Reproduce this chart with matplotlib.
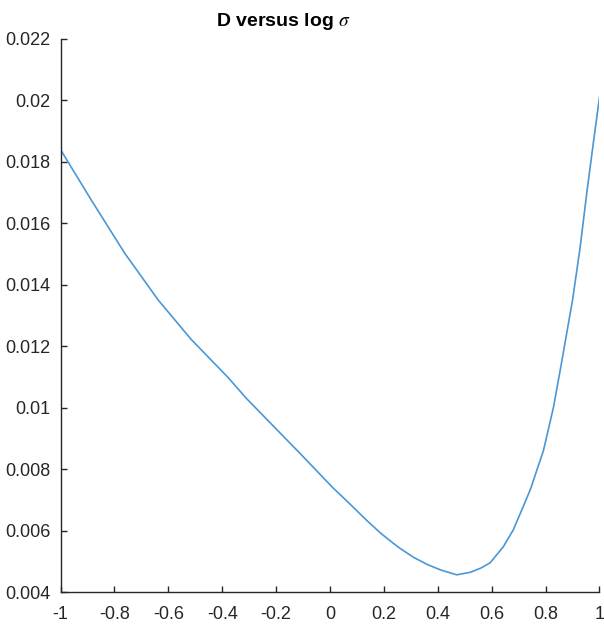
import matplotlib

matplotlib.use('agg')
import matplotlib.pyplot as plt

# values
log_sigma = [-1.0, -0.886, -0.762, -0.638, -0.515, -0.378, -0.31, -0.11, 0.01, 0.07,
             0.14, 0.19, 0.23, 0.26, 0.31, 0.36, 0.41, 0.47, 0.52, 0.56, 0.594, 0.643,
             0.68, 0.717, 0.745, 0.767, 0.792, 0.829, 0.86, 0.90, 0.928, 0.953, 0.977,
             1.0]
D = [0.0184, 0.01676, 0.01503, 0.01351, 0.01222, 0.01098, 0.0103, 0.0085, 0.0074,
     0.0069, 0.0063, 0.0059, 0.00562, 0.00542, 0.00513, 0.0049, 0.00472, 0.00456,
     0.00464, 0.00478, 0.00495, 0.00547, 0.00602, 0.00678, 0.00737, 0.00795, 0.0086,
     0.0100, 0.0115, 0.0135, 0.0152, 0.0170, 0.0186, 0.0201]

x_ticks = [-1, -0.8, -0.6, -0.4, -0.2, 0, 0.2, 0.4, 0.6, 0.8, 1]
x_labels = ['-1', '-0.8', '-0.6', '-0.4', '-0.2', '0', '0.2', '0.4', '0.6', '0.8', '1']
y_ticks = [0.004, 0.006, 0.008, 0.01, 0.012, 0.014, 0.016, 0.018, 0.02, 0.022]
y_labels = ['0.004', '0.006', '0.008', '0.01', '0.012', '0.014', '0.016', '0.018', '0.02', '0.022']

plt.rcParams['font.family'] = ['Liberation Sans', 'DejaVu Sans']
plt.rcParams['mathtext.fontset'] = 'stix'

axis_color = '#262626'

fig = plt.figure(figsize=(6.04, 6.28), dpi=100)
ax = fig.add_axes([0.1002, 0.0573, 0.8923, 0.8806])
ax.plot(log_sigma, D, color='#4a97d6', lw=1.2)

ax.set_xlim(-1, 1)
ax.set_ylim(0.004, 0.022)
ax.set_xticks(x_ticks)
ax.set_xticklabels(x_labels)
ax.set_yticks(y_ticks)
ax.set_yticklabels(y_labels)

for side in ['top', 'right']:
    ax.spines[side].set_visible(False)
for side in ['left', 'bottom']:
    ax.spines[side].set_color(axis_color)
    ax.spines[side].set_linewidth(1.0)

ax.tick_params(axis='both', direction='in', length=4, width=1.0, colors=axis_color,
               labelsize=13)
ax.tick_params(axis='x', pad=10)
ax.tick_params(axis='y', pad=7)

fig.text(283 / 604, 1 - 22 / 628, r'D versus log $\sigma$', ha='center', va='center',
         fontsize=14, fontweight='bold', color='black')

fig.savefig('out.png', dpi=100)
